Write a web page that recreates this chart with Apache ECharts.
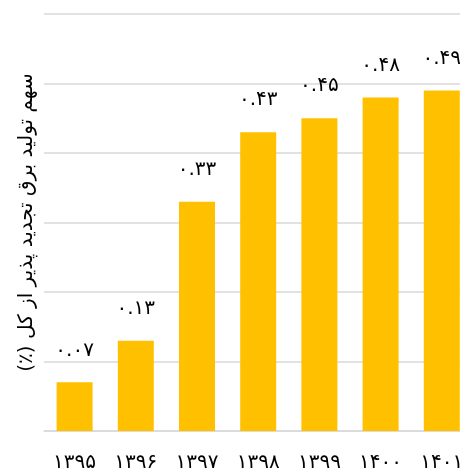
<!DOCTYPE html>
<html><head><meta charset="utf-8">
<script src="https://cdn.jsdelivr.net/npm/echarts@6/dist/echarts.min.js"></script>
<style>html,body{margin:0;padding:0;background:#fff;}#c{width:460px;height:469px;}</style>
</head><body><div id="c"></div>
<script>
const categories = ['۱۳۹۵','۱۳۹۶','۱۳۹۷','۱۳۹۸','۱۳۹۹','۱۴۰۰','۱۴۰۱'];
const shares = [0.07, 0.13, 0.33, 0.43, 0.45, 0.48, 0.49];
const yTitle = 'سهم تولید برق تجدید پذیر از کل (٪)';
const faDigits = '۰۱۲۳۴۵۶۷۸۹';
function toFa(s){ return String(s).replace(/[0-9]/g, d => faDigits[+d]); }
const chart = echarts.init(document.getElementById('c'));
chart.setOption({
  animation:false,
  textStyle:{fontFamily:'DejaVu Sans'},
  grid:{left:44, top:14, width:428.4, height:417, outerBoundsMode:'none'},
  xAxis:{type:'category', data:categories,
    axisLine:{lineStyle:{color:'#d9d9d9', width:1.5}},
    axisTick:{show:false},
    axisLabel:{color:'#000', fontSize:20, margin:22}},
  yAxis:{type:'value', min:0, max:0.6, interval:0.1,
    name:yTitle + '\u200F', nameLocation:'middle', nameRotate:90, nameGap:7,
    nameTextStyle:{color:'#000', fontSize:20, fontWeight:'normal'},
    axisLabel:{show:false}, axisLine:{show:false}, axisTick:{show:false},
    splitLine:{lineStyle:{color:'#d9d9d9', width:1.5}}},
  series:[{type:'bar', data:shares, barWidth:36,
    itemStyle:{color:'#FFC000'},
    label:{show:true, position:'top', distance:22, color:'#000', fontSize:20,
      formatter:p => toFa(p.value.toFixed(2))}}]
});
</script></body></html>
